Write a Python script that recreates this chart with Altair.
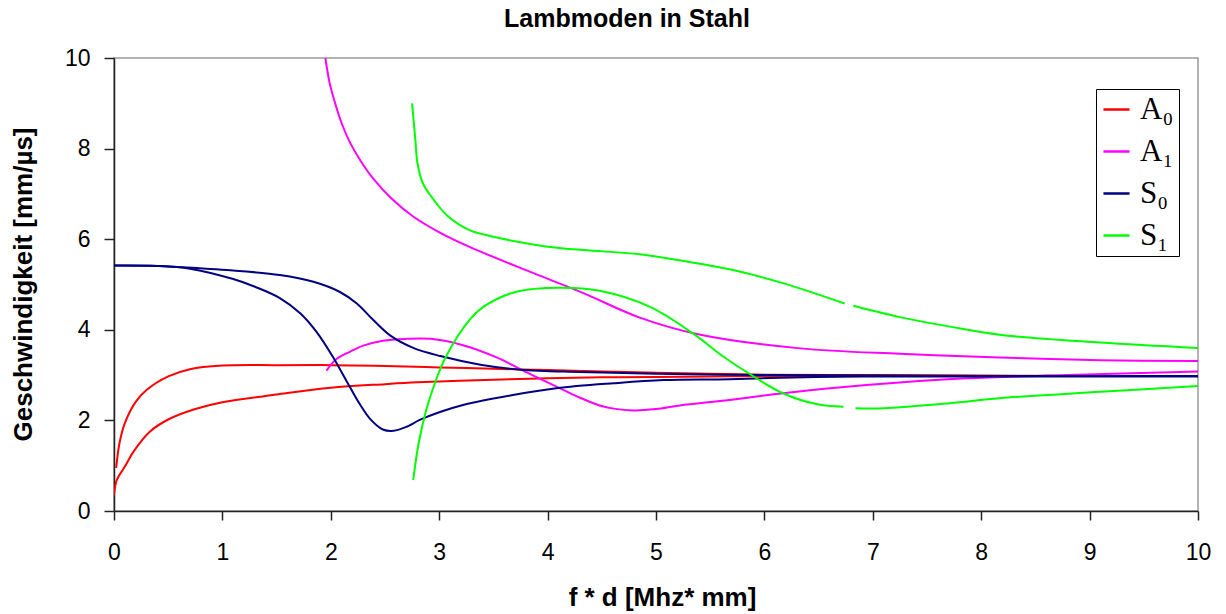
import altair as alt
import pandas as pd

# ---- mode names and colours ----
modes = ["A₀", "A₁", "S₀", "S₁"]
colors = ["#FF0000", "#FF00FF", "#000080", "#00FF00"]

# ---- A0 (red) ----
a0_phase_x = [0.0, 0.025, 0.1, 0.18, 0.33, 0.5, 0.75, 1.0, 1.5, 2.0, 2.5, 2.8, 3.5, 4.0, 4.5, 5.0, 5.5, 6.0, 7.0, 8.0, 9.0, 10.0]
a0_phase_y = [0.35, 0.68, 0.98, 1.31, 1.75, 2.02, 2.25, 2.4, 2.57, 2.72, 2.8, 2.84, 2.9, 2.93, 2.95, 2.96, 2.97, 2.98, 2.98, 2.98, 2.98, 2.98]
a0_group_x = [0.02, 0.05, 0.1, 0.2, 0.3, 0.5, 0.7, 1.0, 1.5, 2.0, 2.5, 3.0, 3.5, 4.0, 4.5, 5.0, 5.5, 6.0, 7.0, 8.0, 9.0, 10.0]
a0_group_y = [0.95, 1.49, 1.94, 2.41, 2.67, 2.97, 3.13, 3.21, 3.22, 3.22, 3.2, 3.17, 3.14, 3.11, 3.08, 3.05, 3.03, 3.01, 3.0, 2.99, 2.98, 2.98]

# ---- A1 (magenta) ----
a1_phase_x = [1.95, 1.99, 2.04, 2.1, 2.18, 2.27, 2.39, 2.55, 2.76, 3.01, 3.28, 3.87, 4.33, 4.85, 5.41, 6.33, 7.25, 8.17, 9.1, 10.0]
a1_phase_y = [10.0, 9.44, 9.0, 8.56, 8.12, 7.75, 7.34, 6.92, 6.5, 6.14, 5.83, 5.25, 4.81, 4.27, 3.89, 3.59, 3.47, 3.39, 3.33, 3.31]
a1_group_x = [1.96, 2.05, 2.18, 2.3, 2.48, 2.7, 2.92, 3.22, 3.53, 3.84, 4.14, 4.3, 4.48, 4.61, 4.79, 5.0, 5.22, 5.68, 6.17, 6.94, 7.87, 8.79, 10.0]
a1_group_y = [3.1, 3.35, 3.52, 3.65, 3.76, 3.8, 3.8, 3.66, 3.39, 3.02, 2.68, 2.5, 2.33, 2.26, 2.22, 2.25, 2.33, 2.45, 2.6, 2.78, 2.93, 3.0, 3.08]

# ---- S0 (navy) ----
s0_phase_x = [0.0, 0.4, 0.79, 1.04, 1.53, 1.84, 2.08, 2.24, 2.39, 2.55, 2.76, 3.01, 3.38, 3.75, 4.3, 5.0, 6.0, 7.0, 8.0, 9.0, 10.0]
s0_phase_y = [5.42, 5.41, 5.36, 5.32, 5.21, 5.06, 4.84, 4.58, 4.22, 3.87, 3.6, 3.42, 3.23, 3.12, 3.07, 3.03, 3.0, 2.99, 2.98, 2.98, 2.98]
s0_group_x = [0.0, 0.4, 0.7, 1.1, 1.3, 1.53, 1.72, 1.87, 2.02, 2.18, 2.27, 2.36, 2.48, 2.58, 2.7, 2.82, 3.0, 3.22, 3.68, 4.08, 4.61, 5.07, 5.68, 6.48, 7.0, 8.0, 9.0, 10.0]
s0_group_y = [5.42, 5.41, 5.35, 5.12, 4.95, 4.7, 4.36, 3.95, 3.4, 2.72, 2.35, 2.04, 1.8, 1.77, 1.86, 2.01, 2.18, 2.34, 2.56, 2.71, 2.82, 2.89, 2.91, 2.96, 2.97, 2.97, 2.97, 2.97]

# ---- S1 (green), each curve has a small gap near 6.8 ----
s1_phase1_x = [2.75, 2.78, 2.8, 2.85, 2.95, 3.07, 3.28, 3.47, 3.71, 4.02, 4.33, 4.85, 5.1, 5.71, 6.17, 6.74]
s1_phase1_y = [9.0, 8.19, 7.67, 7.23, 6.87, 6.53, 6.2, 6.07, 5.95, 5.83, 5.76, 5.67, 5.58, 5.32, 5.03, 4.58]
s1_phase2_x = [6.82, 7.25, 7.71, 8.17, 9.1, 10.0]
s1_phase2_y = [4.53, 4.28, 4.07, 3.89, 3.72, 3.6]
s1_group1_x = [2.76, 2.81, 2.88, 2.96, 3.06, 3.28, 3.41, 3.71, 4.11, 4.48, 4.94, 5.34, 5.62, 5.9, 6.17, 6.48, 6.73]
s1_group1_y = [0.68, 1.49, 2.23, 2.82, 3.4, 4.22, 4.51, 4.84, 4.93, 4.86, 4.51, 3.92, 3.41, 2.97, 2.6, 2.36, 2.3]
s1_group2_x = [6.84, 7.1, 7.71, 8.17, 9.1, 10.0]
s1_group2_y = [2.27, 2.27, 2.38, 2.49, 2.63, 2.76]

curves = [
    ("A₀", "a0p", a0_phase_x, a0_phase_y),
    ("A₀", "a0g", a0_group_x, a0_group_y),
    ("A₁", "a1p", a1_phase_x, a1_phase_y),
    ("A₁", "a1g", a1_group_x, a1_group_y),
    ("S₀", "s0p", s0_phase_x, s0_phase_y),
    ("S₀", "s0g", s0_group_x, s0_group_y),
    ("S₁", "s1p1", s1_phase1_x, s1_phase1_y),
    ("S₁", "s1p2", s1_phase2_x, s1_phase2_y),
    ("S₁", "s1g1", s1_group1_x, s1_group1_y),
    ("S₁", "s1g2", s1_group2_x, s1_group2_y),
]

rows = []
for mode, cid, xs, ys in curves:
    for i, (xv, yv) in enumerate(zip(xs, ys)):
        rows.append({"mode": mode, "curve": cid, "i": i, "x": xv, "y": yv})
df = pd.DataFrame(rows)

SANS = "Liberation Sans"

chart = alt.Chart(df).mark_line(strokeWidth=2, interpolate="catmull-rom", clip=True).encode(
    x=alt.X("x:Q",
            scale=alt.Scale(domain=[0, 10], nice=False, zero=False),
            axis=alt.Axis(values=list(range(11)), title="f *  d [Mhz* mm]",
                          labelFlush=False, labelOverlap=False,
                          tickSize=9, labelPadding=21,
                          titleX=548, titleY=94, titleBaseline="alphabetic", titleAlign="center")),
    y=alt.Y("y:Q",
            scale=alt.Scale(domain=[0, 10], nice=False),
            axis=alt.Axis(values=[0, 2, 4, 6, 8, 10], title="Geschwindigkeit [mm/µs]",
                          labelFlush=False, labelOverlap=False,
                          tickSize=10, labelPadding=14,
                          titleAngle=-90, titleX=-83, titleY=226,
                          titleBaseline="alphabetic", titleAlign="center")),
    color=alt.Color("mode:N",
                    scale=alt.Scale(domain=modes, range=colors),
                    legend=alt.Legend(title=None, orient="none", legendX=982, legendY=31,
                                      strokeColor="black", fillColor="white", padding=5,
                                      labelFont="Liberation Serif", labelFontSize=31,
                                      labelColor="black", labelOffset=8,
                                      symbolType="stroke", symbolSize=680,
                                      symbolStrokeWidth=2.5, rowPadding=10)),
    detail="curve:N",
    order="i:Q",
).properties(
    width=1084,
    height=453,
    title=alt.TitleParams("Lambmoden in Stahl", font=SANS, fontSize=25, fontWeight="bold",
                          anchor="middle", dx=-29, offset=0, dy=5, baseline="alphabetic", color="black"),
    autosize=alt.AutoSizeParams(type="none"),
    padding={"left": 114, "top": 58, "right": 28, "bottom": 103},
).configure_view(
    stroke="#999999", strokeWidth=1.5
).configure_axis(
    grid=False,
    domainColor="#222222", domainWidth=1.5,
    tickColor="#222222", tickWidth=1.5,
    labelFont=SANS, labelFontSize=23, labelColor="black",
    titleFont=SANS, titleFontSize=26, titleFontWeight="bold", titleColor="black",
)

chart.save("out.html", embed_options={"renderer": "svg", "actions": False})
